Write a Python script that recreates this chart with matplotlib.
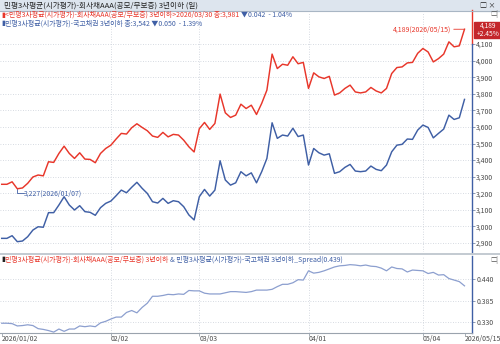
import matplotlib
matplotlib.use('Agg')
from matplotlib import pyplot as plt
from matplotlib.patches import Rectangle
from matplotlib.transforms import blended_transform_factory
import numpy as np

# 민평3사평균 회사채AAA 3년이하 (x1000)
corp_aaa = [3254, 3254, 3269, 3227, 3232, 3260, 3298, 3310, 3305, 3390,
            3386, 3440, 3484, 3440, 3410, 3444, 3406, 3404, 3384, 3440,
            3470, 3490, 3527, 3561, 3557, 3595, 3619, 3597, 3577, 3545,
            3537, 3567, 3540, 3555, 3551, 3520, 3480, 3449, 3589, 3627,
            3585, 3621, 3798, 3685, 3657, 3671, 3737, 3711, 3731, 3675,
            3742, 3822, 4039, 3952, 3978, 3972, 4023, 3981, 3989, 3832,
            3926, 3902, 3892, 3905, 3792, 3805, 3832, 3852, 3811, 3805,
            3811, 3838, 3817, 3805, 3832, 3922, 3958, 3962, 3986, 3989,
            4044, 4073, 4052, 3992, 4012, 4039, 4113, 4083, 4089, 4189]
# 민평3사평균 국고채권 3년이하 (x1000)
ktb = [2928, 2928, 2944, 2908, 2912, 2938, 2978, 2998, 2995, 3083,
       3083, 3129, 3179, 3129, 3099, 3125, 3089, 3085, 3067, 3113,
       3139, 3153, 3185, 3219, 3203, 3236, 3266, 3230, 3199, 3149,
       3141, 3169, 3139, 3155, 3149, 3119, 3069, 3039, 3179, 3223,
       3183, 3219, 3396, 3280, 3249, 3263, 3330, 3305, 3323, 3263,
       3330, 3410, 3625, 3531, 3551, 3545, 3592, 3542, 3551, 3370,
       3470, 3444, 3430, 3438, 3320, 3330, 3356, 3374, 3334, 3330,
       3334, 3364, 3344, 3336, 3370, 3450, 3490, 3495, 3527, 3525,
       3581, 3611, 3597, 3534, 3561, 3587, 3671, 3645, 3655, 3766]

cursor_idx = 57          # 2026/03/30, shown in the legends
cursor_date = '2026/03/30'
tick_idx = [0, 21, 38, 59, 81, 89]
tick_lab = ['2026/01/02', '02/02', '03/03', '04/01', '05/04', '2026/05/15']
main_ticks = list(range(2900, 4101, 100))
spread_ticks = [0.330, 0.385, 0.440]

RED = '#e8362a'
BLUE = '#3f5fa5'
SPREAD = '#8c9fcf'
GRID = '#c9cfd8'
TXT = '#4a4a4a'
FONT = ['Noto Sans CJK KR', 'DejaVu Sans']
plt.rcParams['font.family'] = FONT

W, H = 500, 344
fig = plt.figure(figsize=[W / 100, H / 100], dpi=100)
fig.patch.set_facecolor('white')


def box(x0, y0, x1, y1):
    # pixel box (top-left origin) -> figure fraction
    return [x0 / W, 1 - y1 / H, (x1 - x0) / W, (y1 - y0) / H]


def fy(y):
    return 1 - y / H


x = np.arange(len(corp_aaa))
spread = (np.array(corp_aaa) - np.array(ktb)) / 1000.0
xl = (-1.7 / 5.2, (472 - 1.7) / 5.2)

# main panel
ax = fig.add_axes(box(0, 12, 472, 252))
ax.set_xlim(*xl)
ax.set_ylim(2900 - 9 / 0.1658, 4100 + 32 / 0.1658)
for t in main_ticks:
    ax.axhline(t, color=GRID, lw=0.6, ls=(0, (1, 2)), zorder=0)
for t in tick_idx[1:-1]:
    ax.axvline(t, color=GRID, lw=0.6, ls=(0, (1, 2)), zorder=0)
ax.plot(x, corp_aaa, color=RED, lw=1.05, zorder=3)
ax.plot(x, ktb, color=BLUE, lw=1.05, zorder=3)
for s in ax.spines.values():
    s.set_visible(False)
ax.set_xticks([])
ax.yaxis.tick_right()
ax.set_yticks(main_ticks)
ax.set_yticklabels([f'{t:,}' for t in main_ticks])
ax.tick_params(axis='y', length=2, width=0.6, color='#7a8aa8', pad=1,
               labelsize=5, labelcolor=TXT)

imax = int(np.argmax(corp_aaa))
imin = int(np.argmin(corp_aaa))
ax.annotate(f'{corp_aaa[imax]:,}(2026/05/15)', xy=(imax, corp_aaa[imax]),
            xytext=(imax - 2.6, corp_aaa[imax]), ha='right', va='center',
            fontsize=5, color=RED,
            arrowprops=dict(arrowstyle='-', color=RED, lw=0.6,
                            shrinkA=0, shrinkB=0))
ax.plot([imin, imin, imin + 1.2], [corp_aaa[imin], corp_aaa[imin] - 28, corp_aaa[imin] - 28],
        color=BLUE, lw=0.6)
ax.text(imin + 1.3, corp_aaa[imin] - 28, f'{corp_aaa[imin]:,}(2026/01/07)',
        fontsize=5, color=BLUE, va='center', ha='left')

# right axis line: red on top, blue below
fig.add_artist(plt.Line2D([472 / W, 472 / W], [fy(10), fy(44)], color=RED, lw=1.0))
fig.add_artist(plt.Line2D([472 / W, 472 / W], [fy(44), fy(252)], color=BLUE, lw=1.0))

# last value box
fig.add_artist(Rectangle((474 / W, fy(38)), 26 / W, 16 / H, color='#c4262b', zorder=5))
fig.text(488 / W, fy(26), f'{corp_aaa[-1]:,}', fontsize=4.8, color='white',
         ha='center', va='center', zorder=6)
chg = (corp_aaa[-1] / corp_aaa[-2] - 1) * 100
fig.text(488 / W, fy(33.5), f'+{chg:.2f}%', fontsize=4.8, color='white',
         ha='center', va='center', zorder=6)

# spread panel
per_px = 0.110 / 42.4
ax2 = fig.add_axes(box(0, 256, 472, 333))
ax2.set_xlim(*xl)
ax2.set_ylim(0.330 - 11.3 * per_px, 0.440 + 23.3 * per_px)
for t in spread_ticks:
    ax2.axhline(t, color=GRID, lw=0.6, ls=(0, (1, 2)), zorder=0)
for t in tick_idx[1:-1]:
    ax2.axvline(t, color=GRID, lw=0.6, ls=(0, (1, 2)), zorder=0)
ax2.plot(x, spread, color=SPREAD, lw=0.9, zorder=3)
for s in ['top', 'left']:
    ax2.spines[s].set_visible(False)
ax2.spines['bottom'].set_color('#9aa3ad')
ax2.spines['bottom'].set_linewidth(0.8)
ax2.spines['right'].set_color(BLUE)
ax2.spines['right'].set_linewidth(1.0)
ax2.yaxis.tick_right()
ax2.set_yticks(spread_ticks)
ax2.set_yticklabels([f'{t:.3f}' for t in spread_ticks])
ax2.tick_params(axis='y', length=2, width=0.6, color='#7a8aa8', pad=1,
                labelsize=5, labelcolor=TXT)
ax2.set_xticks(tick_idx)
ax2.set_xticklabels([])
ax2.tick_params(axis='x', length=2.5, width=0.6, color='#9aa3ad')
trans = blended_transform_factory(ax2.transData, fig.transFigure)
for i, lab in zip(tick_idx, tick_lab):
    ax2.text(i, fy(339), lab, transform=trans, fontsize=5, color=TXT,
             ha='left', va='center', clip_on=False)

# title bar
fig.add_artist(Rectangle((0, fy(11)), 1, 11 / H, color='#dde5ee', zorder=0))
fig.add_artist(plt.Line2D([0, 1], [fy(11), fy(11)], color='#a9b6c4', lw=0.8))
fig.text(4 / W, fy(5.5), '민평3사평균(시가평가)-회사채AAA(공모/무보증) 3년이하 (일)',
         fontsize=5.5, color='#222222', va='center')
fig.text(496 / W, fy(5.5), '□ ×', fontsize=5, color='#222222', va='center', ha='right')
fig.text(498 / W, fy(14), '□|', fontsize=4.5, color='#555555', va='center', ha='right')
fig.text(498 / W, fy(260), '□|', fontsize=4.5, color='#555555', va='center', ha='right')

# panel separator
fig.add_artist(plt.Line2D([0, 1], [fy(253.5), fy(253.5)], color='#b9c1ca', lw=1.2))

renderer = fig.canvas.get_renderer()


def multi_text(x0, y, parts):
    for s, c in parts:
        t = fig.text(x0 / W, fy(y), s, fontsize=5, color=c, va='center', ha='left')
        x0 += t.get_window_extent(renderer).width


def change(vals):
    d = (vals[cursor_idx] - vals[cursor_idx - 1]) / 1000
    p = (vals[cursor_idx] / vals[cursor_idx - 1] - 1) * 100
    mark = '▲' if d > 0 else '▼'
    return f'{mark}{abs(d):.3f}  {p:+.2f}%'.replace('+', '+ ').replace('-', '- ')


multi_text(1, 14.5, [('▮', RED),
                     (f'<민평3사평균(시가평가)-회사채AAA(공모/무보증) 3년이하>{cursor_date} '
                      f'종:{corp_aaa[cursor_idx]:,} ', RED),
                     (change(corp_aaa), BLUE)])
multi_text(1, 23.5, [('▮', BLUE),
                     (f'민평3사평균(시가평가)-국고채권 3년이하 종:{ktb[cursor_idx]:,} '
                      f'{change(ktb)}', BLUE)])
multi_text(1, 259.5, [('▮', '#222222'),
                      ('민평3사평균(시가평가)-회사채AAA(공모/무보증) 3년이하 ', RED),
                      (f'& 민평3사평균(시가평가)-국고채권 3년이하_Spread({spread[cursor_idx]:.3f})', BLUE)])

fig.savefig('out.png', dpi=100)
